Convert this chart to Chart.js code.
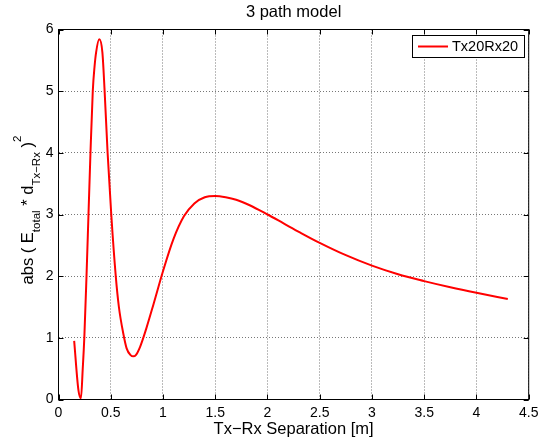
<!DOCTYPE html>
<html>
<head>
<meta charset="utf-8">
<script src="https://cdn.jsdelivr.net/npm/chart.js@4/dist/chart.umd.min.js"></script>
<style>
  html, body { margin: 0; padding: 0; background: #fff; }
  #wrap { width: 545px; height: 443px; position: relative; }
</style>
</head>
<body>
<div id="wrap"><canvas id="c" width="545" height="443"></canvas></div>
<script>
// Tx-Rx separation in metres
const separation = [0.15, 0.19, 0.215, 0.232, 0.247, 0.268, 0.287, 0.306, 0.328, 0.345, 0.36, 0.39, 0.42, 0.44,
  0.47, 0.505, 0.548, 0.578, 0.62, 0.652, 0.69, 0.715, 0.74, 0.78, 0.84, 0.91, 1.0, 1.1, 1.2, 1.3, 1.4, 1.5,
  1.6, 1.7, 1.83, 2.0, 2.15, 2.31, 2.5, 2.75, 3.0, 3.25, 3.5, 3.75, 4.0, 4.3];
// abs(E_total * d)^2 for the Tx20Rx20 configuration
const fieldPower = [0.95, 0.16, 0.02, 0.5, 1.0, 2.0, 3.0, 4.0, 5.0, 5.4, 5.63, 5.84, 5.63, 5.05,
  4.0, 3.0, 2.0, 1.5, 1.07, 0.83, 0.72, 0.70, 0.72, 0.85, 1.15, 1.55, 2.08, 2.6, 2.97, 3.18, 3.28, 3.30,
  3.28, 3.24, 3.15, 3.0, 2.86, 2.71, 2.54, 2.34, 2.17, 2.03, 1.92, 1.82, 1.73, 1.63];
const xTicks = [0, 0.5, 1, 1.5, 2, 2.5, 3, 3.5, 4, 4.5];
const yTicks = [0, 1, 2, 3, 4, 5, 6];
const seriesName = 'Tx20Rx20';
const chartTitle = '3 path model';
const xTitle = 'Tx\u2212Rx Separation [m]';

const FONT = '"Liberation Sans", Arial, Helvetica, sans-serif';

const points = separation.map((x, i) => ({ x: x, y: fieldPower[i] }));

// Frame, inward ticks, titles, legend – drawn around the chart area
const decorations = {
  id: 'decorations',
  afterDraw(chart) {
    const ctx = chart.ctx;
    const a = chart.chartArea;
    const xs = chart.scales.x, ys = chart.scales.y;
    ctx.save();
    // axes box
    ctx.strokeStyle = '#000';
    ctx.lineWidth = 1;
    ctx.strokeRect(a.left, a.top, a.right - a.left, a.bottom - a.top);
    // inward tick marks on all four sides
    const tl = 5;
    ctx.beginPath();
    xTicks.forEach(v => {
      const px = Math.round(xs.getPixelForValue(v)) + 0.5;
      ctx.moveTo(px, a.bottom); ctx.lineTo(px, a.bottom - tl);
      ctx.moveTo(px, a.top); ctx.lineTo(px, a.top + tl);
    });
    yTicks.forEach(v => {
      const py = Math.round(ys.getPixelForValue(v)) + 0.5;
      ctx.moveTo(a.left, py); ctx.lineTo(a.left + tl, py);
      ctx.moveTo(a.right, py); ctx.lineTo(a.right - tl, py);
    });
    ctx.stroke();

    const cx = (a.left + a.right) / 2;
    ctx.fillStyle = '#000';
    // title
    ctx.font = '16.5px ' + FONT;
    ctx.textAlign = 'center';
    ctx.textBaseline = 'alphabetic';
    ctx.fillText(chartTitle, cx, 17);
    // x-axis title
    ctx.fillText(xTitle, cx, 434);

    // y-axis title with sub/superscripts
    const parts = [
      { t: 'abs ( E', s: 16.5, dy: 0 },
      { t: 'total', s: 11.5, dy: 6.5 },
      { t: ' * d', s: 16.5, dy: 0 },
      { t: 'Tx\u2212Rx', s: 11.5, dy: 6.5 },
      { t: ' )', s: 16.5, dy: 0 },
      { t: '2', s: 11.5, dy: -12 }
    ];
    let total = 0;
    parts.forEach(p => { ctx.font = p.s + 'px ' + FONT; p.w = ctx.measureText(p.t).width; total += p.w; });
    ctx.save();
    ctx.translate(33, 210);
    ctx.rotate(-Math.PI / 2);
    ctx.textAlign = 'left';
    let pos = -total / 2;
    parts.forEach(p => {
      ctx.font = p.s + 'px ' + FONT;
      ctx.fillText(p.t, pos, p.dy);
      pos += p.w;
    });
    ctx.restore();

    // legend
    const ds = chart.data.datasets[0];
    const lx = 412.5, ly = 35.5, lw = 112, lh = 22;
    ctx.fillStyle = '#fff';
    ctx.fillRect(lx, ly, lw, lh);
    ctx.strokeStyle = '#000';
    ctx.lineWidth = 1;
    ctx.strokeRect(lx, ly, lw, lh);
    ctx.strokeStyle = ds.borderColor;
    ctx.lineWidth = 2;
    ctx.beginPath();
    ctx.moveTo(418, 46.5); ctx.lineTo(448, 46.5);
    ctx.stroke();
    ctx.fillStyle = '#000';
    ctx.font = '14.5px ' + FONT;
    ctx.textAlign = 'left';
    ctx.textBaseline = 'middle';
    ctx.fillText(ds.label, 452, 47);
    ctx.restore();
  }
};

new Chart(document.getElementById('c'), {
  type: 'line',
  data: {
    datasets: [{
      label: seriesName,
      data: points,
      borderColor: '#ff0000',
      backgroundColor: '#ff0000',
      borderWidth: 2,
      pointRadius: 0,
      fill: false,
      cubicInterpolationMode: 'monotone'
    }]
  },
  options: {
    responsive: false,
    animation: false,
    layout: { padding: { top: 29.5, right: 16.3, left: 0, bottom: 0 } },
    plugins: { legend: { display: false }, title: { display: false }, tooltip: { enabled: false } },
    scales: {
      x: {
        type: 'linear',
        min: 0, max: 4.5,
        afterBuildTicks(scale) { scale.ticks = xTicks.map(v => ({ value: v })); },
        afterFit(scale) { scale.height = 43.5; },
        grid: { color: '#777', lineWidth: 1, drawTicks: false },
        border: { display: false, dash: [1, 2] },
        ticks: { color: '#000', padding: 5, font: { family: FONT, size: 14 }, maxRotation: 0,
          callback: v => String(v) }
      },
      y: {
        type: 'linear',
        min: 0, max: 6,
        afterBuildTicks(scale) { scale.ticks = yTicks.map(v => ({ value: v })); },
        afterFit(scale) { scale.width = 58.5; },
        grid: { color: '#777', lineWidth: 1, drawTicks: false },
        border: { display: false, dash: [1, 2] },
        ticks: { color: '#000', padding: 5, font: { family: FONT, size: 14 },
          callback: v => String(v) }
      }
    }
  },
  plugins: [decorations]
});
</script>
</body>
</html>
